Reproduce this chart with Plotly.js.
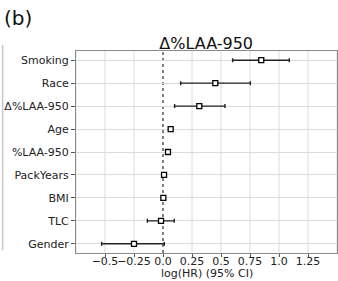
<!DOCTYPE html>
<html><head><meta charset="utf-8">
<script src="https://cdn.plot.ly/plotly-3.0.1.min.js"></script>
<style>html,body{margin:0;padding:0;background:#fff}#c{width:338px;height:281px}</style>
</head><body><div id="c"></div>
<script>
const categories = ["Smoking","Race","Δ%LAA-950","Age","%LAA-950","PackYears","BMI","TLC","Gender"];
const coef  = [0.847, 0.451, 0.313, 0.066, 0.043, 0.009, 0.003, -0.017, -0.250];
const lower = [0.600, 0.152, 0.100, 0.052, 0.032, 0.000, -0.010, -0.135, -0.529];
const upper = [1.089, 0.753, 0.534, 0.080, 0.055, 0.018, 0.015, 0.097, 0.011];
const xTicks = [-0.5, -0.25, 0.0, 0.25, 0.5, 0.75, 1.0, 1.25];
const xTickText = ["\u22120.5","\u22120.25","0.0","0.25","0.5","0.75","1.0","1.25"];
const xGrid = [-0.75, -0.5, -0.25, 0.25, 0.5, 0.75, 1.0, 1.25, 1.5];

const plus = upper.map((u,i)=>u-coef[i]);
const minus = coef.map((c,i)=>c-lower[i]);

const shapes = [];
xGrid.forEach(v=>shapes.push({type:'line',xref:'x',yref:'paper',x0:v,x1:v,y0:0,y1:1,line:{color:'#dcdcdc',width:1},layer:'below'}));
shapes.push({type:'line',xref:'x',yref:'paper',x0:0,x1:0,y0:0,y1:1,line:{color:'#808080',width:2,dash:'dot'},layer:'below'});
shapes.push({type:'line',xref:'paper',yref:'paper',x0:-0.281,x1:-0.281,y0:0.015,y1:1.03,line:{color:'#c8c8c8',width:1.5}});

const trace = {
  type:'scatter', mode:'markers', x:coef, y:categories,
  marker:{symbol:'square',size:5,color:'#fff',line:{color:'#000',width:1.3}},
  error_x:{type:'data',symmetric:false,array:plus,arrayminus:minus,color:'#222',thickness:1.4,width:2},
  cliponaxis:false
};
const layout = {
  width:338,height:281,
  margin:{l:76,r:1,t:51,b:28},
  paper_bgcolor:'#fff',plot_bgcolor:'#fff',
  font:{family:'DejaVu Sans',size:11,color:'#222'},
  showlegend:false,
  title:{text:'Δ%LAA-950',font:{family:'DejaVu Sans',size:16,color:'#111'},x:0.61,xanchor:'center',y:0.825,yanchor:'bottom',yref:'container'},
  xaxis:{range:[-0.75,1.5],tickvals:xTicks,ticktext:xTickText,tickangle:0,showgrid:false,zeroline:false,
    ticks:'outside',ticklen:3,tickcolor:'#555',showline:true,linecolor:'#8a8a8a',mirror:true,linewidth:1,
    tickfont:{size:11,color:'#222'},automargin:false,ticklabelstandoff:-5},
  yaxis:{type:'category',categoryorder:'array',categoryarray:categories,range:[8.4,-0.4],
    showgrid:true,gridcolor:'#dcdcdc',gridwidth:1,zeroline:false,
    ticks:'outside',ticklen:4,tickcolor:'#555',showline:true,linecolor:'#8a8a8a',mirror:true,linewidth:1,
    tickfont:{size:11,color:'#222'},automargin:false},
  shapes:shapes,
  annotations:[
    {text:'(b)',xref:'paper',yref:'paper',x:-0.285,y:1.235,xanchor:'left',yanchor:'top',showarrow:false,font:{family:'DejaVu Sans',size:20,color:'#111'}},
    {text:'log(HR) (95% CI)',xref:'paper',yref:'paper',x:0.5,y:-0.141,xanchor:'center',yanchor:'bottom',borderpad:0,showarrow:false,font:{family:'DejaVu Sans',size:11,color:'#222'}}
  ]
};
Plotly.newPlot('c',[trace],layout,{displayModeBar:false,staticPlot:true});
</script></body></html>
